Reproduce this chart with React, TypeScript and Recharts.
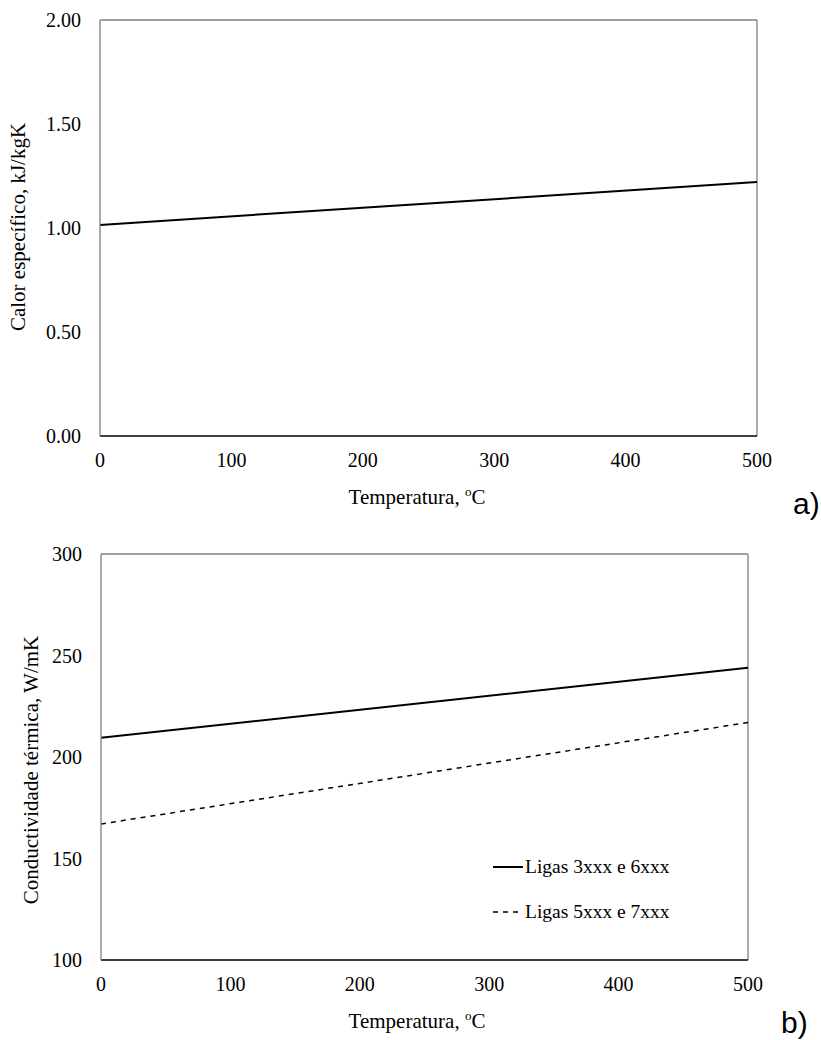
import React from 'react';
import { LineChart, Line, XAxis, YAxis, ReferenceLine } from 'recharts';

// temperatures (°C) where values were read
const temps = [0, 500];
// a) specific heat, kJ/kgK
const specificHeat = [1.015, 1.221];
// b) thermal conductivity, W/mK
const conductivity3x6x = [209.5, 244];
const conductivity5x7x = [167, 217];

const xTicks = [0, 100, 200, 300, 400, 500];
const heatTicks = [0, 0.5, 1, 1.5, 2];
const condTicks = [100, 150, 200, 250, 300];

const seriesNames = ['Ligas 3xxx e 6xxx', 'Ligas 5xxx e 7xxx'];

const serif = '"Liberation Serif", "Times New Roman", serif';
const borderGray = '#808080';
const tickStyle = { fill: '#000', fontSize: 20, fontFamily: serif };

const heatData = temps.map((t, i) => ({ t, c: specificHeat[i] }));
const condData = temps.map((t, i) => ({ t, a: conductivity3x6x[i], b: conductivity5x7x[i] }));

const LegendBox = () => (
  <div style={{ fontFamily: serif, fontSize: 19.5, color: '#000' }}>
    {seriesNames.map((name, i) => (
      <div key={name} style={{ display: 'flex', alignItems: 'center', height: 45 }}>
        <svg width={30} height={6} style={{ marginRight: 2 }}>
          <line
            x1={0}
            y1={3}
            x2={30}
            y2={3}
            stroke="#000"
            strokeWidth={i === 0 ? 2 : 1.5}
            strokeDasharray={i === 0 ? undefined : '5 5'}
          />
        </svg>
        <span>{name}</span>
      </div>
    ))}
  </div>
);

export default function App() {
  return (
    <div style={{ position: 'absolute', top: 0, left: 0, width: 821, height: 1040, background: '#fff' }}>
      <div style={{ position: 'absolute', top: 0, left: 0 }}>
        <LineChart width={821} height={520} data={heatData} margin={{ top: 20, right: 64, left: 40, bottom: 54 }}>
          <XAxis
            dataKey="t"
            type="number"
            domain={[0, 500]}
            ticks={xTicks}
            tick={tickStyle}
            tickLine={false}
            tickSize={0}
            tickMargin={17}
            height={30}
            axisLine={{ stroke: '#000', strokeWidth: 1.3 }}
          />
          <YAxis
            type="number"
            domain={[0, 2]}
            ticks={heatTicks}
            tick={tickStyle}
            tickFormatter={(v: number) => v.toFixed(2)}
            tickLine={false}
            tickSize={0}
            tickMargin={19}
            width={60}
            axisLine={{ stroke: borderGray, strokeWidth: 1.3 }}
          />
          <ReferenceLine y={2} stroke={borderGray} strokeWidth={1.3} />
          <ReferenceLine x={500} stroke={borderGray} strokeWidth={1.3} />
          <Line type="linear" dataKey="c" stroke="#000" strokeWidth={2} dot={false} isAnimationActive={false} />
        </LineChart>
      </div>

      <div style={{ position: 'absolute', top: 520, left: 0 }}>
        <LineChart width={821} height={520} data={condData} margin={{ top: 34, right: 73, left: 41, bottom: 50 }}>
          <XAxis
            dataKey="t"
            type="number"
            domain={[0, 500]}
            ticks={xTicks}
            tick={tickStyle}
            tickLine={false}
            tickSize={0}
            tickMargin={17}
            height={30}
            axisLine={{ stroke: '#000', strokeWidth: 1.3 }}
          />
          <YAxis
            type="number"
            domain={[100, 300]}
            ticks={condTicks}
            tick={tickStyle}
            tickLine={false}
            tickSize={0}
            tickMargin={19}
            width={60}
            axisLine={{ stroke: borderGray, strokeWidth: 1.3 }}
          />
          <ReferenceLine y={300} stroke={borderGray} strokeWidth={1.3} />
          <ReferenceLine x={500} stroke={borderGray} strokeWidth={1.3} />
          <Line
            type="linear"
            dataKey="a"
            name={seriesNames[0]}
            stroke="#000"
            strokeWidth={2}
            dot={false}
            isAnimationActive={false}
          />
          <Line
            type="linear"
            dataKey="b"
            name={seriesNames[1]}
            stroke="#000"
            strokeWidth={1.5}
            strokeDasharray="5 5"
            dot={false}
            isAnimationActive={false}
          />
        </LineChart>
      </div>

      <div style={{ position: 'absolute', left: 493, top: 844 }}>
        <LegendBox />
      </div>

      <svg
        width={821}
        height={1040}
        style={{ position: 'absolute', top: 0, left: 0, pointerEvents: 'none' }}
        fontFamily={serif}
        fill="#000"
      >
        <text x={417} y={504} textAnchor="middle" fontSize={21}>
          Temperatura, <tspan dy={-8} fontSize={13}>o</tspan>
          <tspan dy={8}>C</tspan>
        </text>
        <text x={417} y={1028} textAnchor="middle" fontSize={21}>
          Temperatura, <tspan dy={-8} fontSize={13}>o</tspan>
          <tspan dy={8}>C</tspan>
        </text>
        <text transform="translate(25,227) rotate(-90)" textAnchor="middle" fontSize={21}>
          Calor específico, kJ/kgK
        </text>
        <text transform="translate(38,770) rotate(-90)" textAnchor="middle" fontSize={21}>
          Conductividade térmica, W/mK
        </text>
        <text x={793} y={514} fontSize={30} fontFamily='"Liberation Sans", Arial, sans-serif'>
          a)
        </text>
        <text x={781} y={1033} fontSize={30} fontFamily='"Liberation Sans", Arial, sans-serif'>
          b)
        </text>
      </svg>
    </div>
  );
}
